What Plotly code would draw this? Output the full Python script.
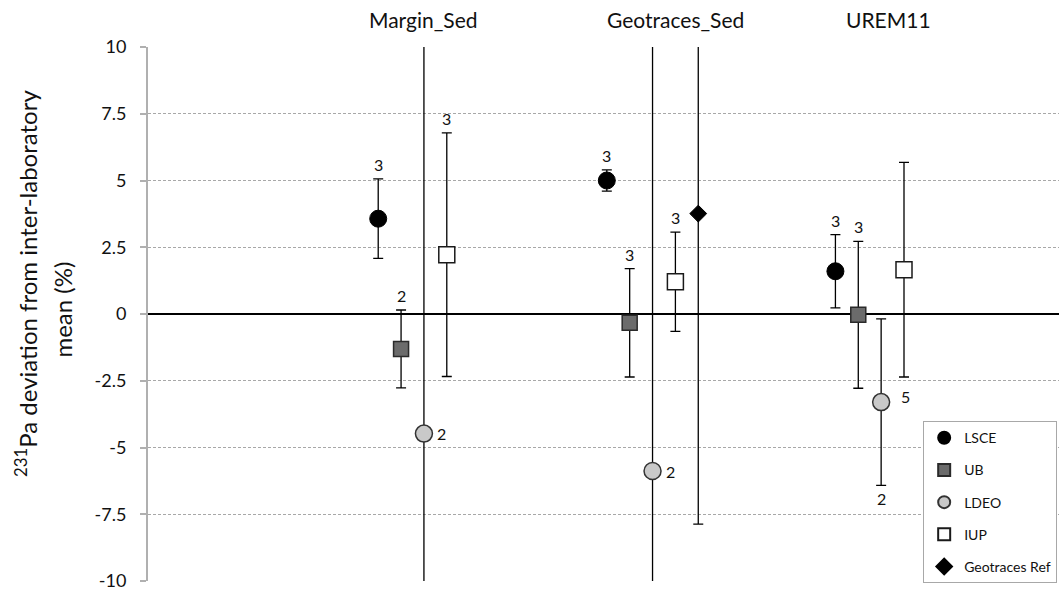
import plotly.graph_objects as go

# ---- data ----
categories = ["Margin_Sed", "Geotraces_Sed", "UREM11"]
category_slot = [1, 11, 21]          # x slot of first lab in each category
category_label_x = [3.0, 14.0, 23.3]  # where the category names are written

labs = ["LSCE", "UB", "LDEO", "IUP", "Geotraces Ref"]

lsce_vals = [3.57, 5.00, 1.60]
lsce_errs = [1.49, 0.40, 1.37]
ub_vals = [-1.31, -0.33, -0.03]
ub_errs = [1.46, 2.03, 2.75]
ldeo_vals = [-4.48, -5.88, -3.30]
ldeo_errs = [20.0, 20.0, 3.12]
iup_vals = [2.22, 1.21, 1.66]
iup_errs = [4.56, 1.86, 4.02]
ref_vals = [None, 3.76, None]
ref_errs = [None, 11.63, None]

# number of replicates written beside the points: (lab, category index, text, where)
n_labels = [
    ("LSCE", 0, "3", "top"), ("UB", 0, "2", "top"), ("LDEO", 0, "2", "right"), ("IUP", 0, "3", "top"),
    ("LSCE", 1, "3", "top"), ("UB", 1, "3", "top"), ("LDEO", 1, "2", "right"), ("IUP", 1, "3", "top"),
    ("LSCE", 2, "3", "top"), ("UB", 2, "3", "top"), ("LDEO", 2, "5", "right"), ("LDEO", 2, "2", "bottom"),
]

y_ticks = [-10, -7.5, -5, -2.5, 0, 2.5, 5, 7.5, 10]
y_ticktext = ["-10", "-7.5", "-5", "-2.5", "0", "2.5", "5", "7.5", "10"]

series = {
    "LSCE": (lsce_vals, lsce_errs),
    "UB": (ub_vals, ub_errs),
    "LDEO": (ldeo_vals, ldeo_errs),
    "IUP": (iup_vals, iup_errs),
    "Geotraces Ref": (ref_vals, ref_errs),
}

styles = {
    "LSCE": dict(symbol="circle", size=17, color="#000000", line=dict(color="#000000", width=1)),
    "UB": dict(symbol="square", size=15, color="#6b6b6b", line=dict(color="#2a2a2a", width=1.5)),
    "LDEO": dict(symbol="circle", size=17, color="#c9c9c9", line=dict(color="#333333", width=1.5)),
    "IUP": dict(symbol="square", size=16, color="#ffffff", line=dict(color="#1a1a1a", width=1.5)),
    "Geotraces Ref": dict(symbol="diamond", size=13, color="#000000", line=dict(color="#000000", width=1)),
}

# small pixel nudges for individual labels (style only)
label_nudge = {("LDEO", 2, "5"): (7, 6)}

FONT = "Lato"
TXT = "#111111"

fig = go.Figure()

def xpos(lab, ci):
    return category_slot[ci] + labs.index(lab)

for lab in labs:
    vals, errs = series[lab]
    xs, ys, es = [], [], []
    for ci, (v, e) in enumerate(zip(vals, errs)):
        if v is None:
            continue
        xs.append(xpos(lab, ci))
        ys.append(v)
        es.append(e)
    fig.add_trace(go.Scatter(
        x=xs, y=ys, mode="markers", name=lab, legendgroup=lab,
        marker=styles[lab],
        error_y=dict(type="data", array=es, symmetric=True, color="#000000",
                     thickness=1.3, width=5),
    ))

for lab, ci, txt, where in n_labels:
    vals, errs = series[lab]
    v, e = vals[ci], errs[ci]
    x = xpos(lab, ci)
    dx, dy = label_nudge.get((lab, ci, txt), (0, 0))
    f = dict(family=FONT, size=16, color=TXT)
    if where == "top":
        fig.add_annotation(x=x, y=v + e, text=txt, showarrow=False, yanchor="bottom",
                           yshift=3 + dy, xshift=dx, font=f)
    elif where == "bottom":
        fig.add_annotation(x=x, y=v - e, text=txt, showarrow=False, yanchor="top",
                           yshift=-2 + dy, xshift=dx, font=f)
    else:
        fig.add_annotation(x=x, y=v, text=txt, showarrow=False, xanchor="left",
                           xshift=11 + dx, yshift=dy, font=f)

for name, lx in zip(categories, category_label_x):
    fig.add_annotation(x=lx, xref="x", y=1.051, yref="paper", text=name, showarrow=False,
                       xanchor="center", yanchor="middle",
                       font=dict(family=FONT, size=21, color=TXT))

# y-axis title (two lines)
fig.add_annotation(x=-0.134, xref="paper", y=0.558, yref="paper",
                   text="<sup>231</sup>Pa deviation from inter-laboratory", textangle=-90,
                   showarrow=False, xanchor="center", yanchor="middle",
                   font=dict(family=FONT, size=24, color=TXT))
fig.add_annotation(x=-0.094, xref="paper", y=0.509, yref="paper",
                   text="mean (%)", textangle=-90,
                   showarrow=False, xanchor="center", yanchor="middle",
                   font=dict(family=FONT, size=24, color=TXT))

fig.update_xaxes(range=[-9.07, 30.78], visible=False, showgrid=False, zeroline=False)
fig.update_yaxes(range=[-10, 10], tickvals=y_ticks, ticktext=y_ticktext,
                 showgrid=True, gridcolor="#a8a8a8", griddash="3px,2px", gridwidth=1,
                 zeroline=True, zerolinecolor="#000000", zerolinewidth=2,
                 showline=True, linecolor="#b0b0b0", linewidth=2,
                 ticks="outside", ticklen=6, tickcolor="#b0b0b0", tickwidth=1.5,
                 ticklabelstandoff=10,
                 tickfont=dict(family=FONT, size=18, color=TXT))

fig.update_layout(
    width=1059, height=596,
    margin=dict(l=148, r=0, t=47, b=15),
    paper_bgcolor="white", plot_bgcolor="white",
    showlegend=True,
    legend=dict(x=0.998, xanchor="right", y=-0.004, yanchor="bottom",
                bgcolor="white", bordercolor="#a8a8a8", borderwidth=1,
                font=dict(family=FONT, size=14, color=TXT),
                traceorder="grouped", tracegroupgap=11, itemsizing="constant",
                itemwidth=30),
)

fig.write_html("out.html", config={"displayModeBar": False},
               post_script="document.body.style.margin='0px';document.body.style.overflow='hidden';")
